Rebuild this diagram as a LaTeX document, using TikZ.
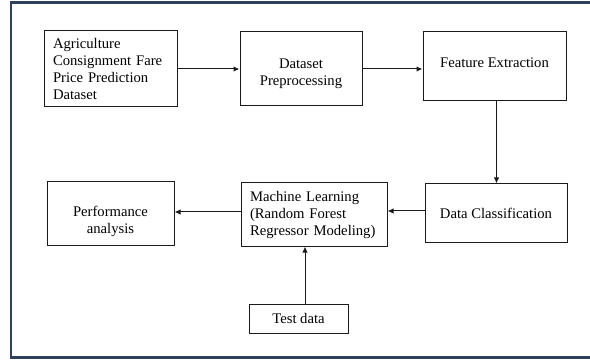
\documentclass[tikz,border=0pt]{standalone}
\usepackage{fontspec}
\setmainfont{Liberation Serif}
\usetikzlibrary{arrows.meta, positioning, calc}
\definecolor{frameColor}{HTML}{2E4158}
\definecolor{boxLine}{HTML}{1A1A1A}
\definecolor{lineColor}{HTML}{1A1A1A}

\begin{document}
\begin{tikzpicture}[
    x=0.75pt, y=-0.75pt,
    % Box Styles
    procBox/.style={
        draw=boxLine,
        line width=0.75pt,
        fill=white,
        text=black,
        align=center,
        font=\fontsize{11}{12.75}\selectfont,
        inner xsep=6.75pt,
        inner ysep=2pt
    },
    leftBox/.style={
        procBox,
        align=left
    },
    % Line Styles
    connector/.style={
        -{Latex[length=4.5pt,width=4pt]},
        line width=0.75pt,
        color=lineColor
    }
]

    % --- CANVAS & FRAME ---
    \useasboundingbox (0,0) rectangle (590,360);
    \fill[white] (0,0) rectangle (590,360);
    \draw[frameColor, line width=1.8pt] (591,2.5) -- (11,2.5) -- (11,357.5) -- (591,357.5);

    % --- TOP ROW ---
    \node[leftBox, minimum width=99.75pt, minimum height=57pt, text width=86.25pt] (dataset) at (110.5,69)
        {Agriculture\\Consignment Fare\\Price Prediction\\Dataset};
    \node[procBox, minimum width=91.5pt, minimum height=55.5pt] (preproc) at (301,69)
        {\rule{0pt}{14pt}Dataset\\Preprocessing};
    \node[procBox, minimum width=107.25pt, minimum height=51.75pt] (features) at (494.5,66.5)
        {\rule[-6pt]{0pt}{0pt}Feature Extraction};

    % --- BOTTOM ROW ---
    \node[procBox, minimum width=106.5pt, minimum height=43.5pt] (classify) at (496,213)
        {Data Classification};
    \node[leftBox, minimum width=109.5pt, minimum height=47.25pt, text width=96pt] (model) at (314,214.5)
        {Machine Learning\\(Random Forest\\Regressor Modeling)};
    \node[procBox, minimum width=95.25pt, minimum height=47.25pt] (perf) at (110.5,213.5)
        {\rule{0pt}{19pt}Performance\\analysis};
    \node[procBox, minimum width=74.25pt, minimum height=21.75pt] (testdata) at (298.5,318.5)
        {Test data};

    % --- CONNECTIONS ---
    \draw[connector] (dataset.east) -- (preproc.west |- dataset.east);
    \draw[connector] (preproc.east) -- (features.west |- preproc.east);
    \coordinate (featDown) at ($(features.south)+(2,0)$);
    \draw[connector] (featDown) -- (featDown |- classify.north);
    \draw[connector] ($(classify.west)+(0,-2)$) -- ($(model.east)+(0,-3.5)$);
    \draw[connector] ($(model.west)+(0,-2.5)$) -- ($(perf.east)+(0,-1.5)$);
    \coordinate (testUp) at ($(testdata.north)+(6.5,0)$);
    \draw[connector] (testUp) -- (testUp |- model.south);

\end{tikzpicture}
\end{document}
